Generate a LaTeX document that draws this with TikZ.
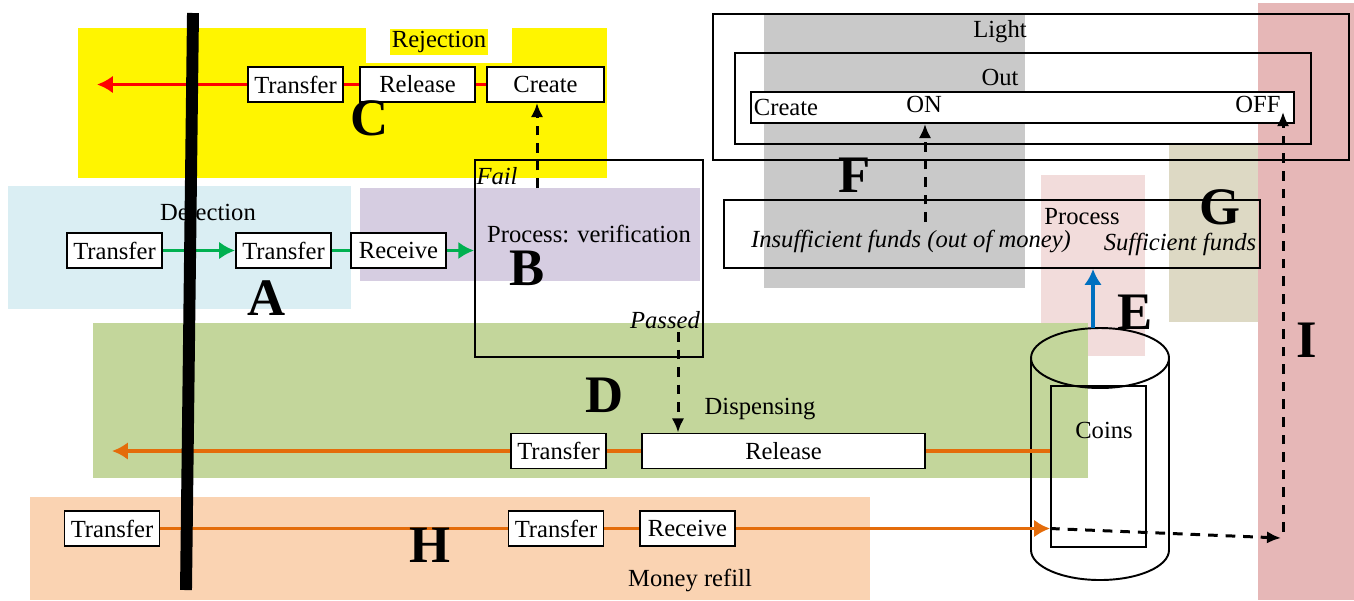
\documentclass[tikz,border=0pt]{standalone}
\usepackage{fontspec}
\setmainfont{Liberation Serif}
\usepackage{tikz}
\usetikzlibrary{arrows.meta}
\definecolor{regyellow}{HTML}{FFF500}
\definecolor{regblue}{HTML}{DAEEF3}
\definecolor{regpurple}{HTML}{D6CDE1}
\definecolor{reggreen}{HTML}{C3D69B}
\definecolor{regorange}{HTML}{FAD3B2}
\definecolor{reggray}{HTML}{C9C9C9}
\definecolor{regpink}{HTML}{F2DCDB}
\definecolor{regtan}{HTML}{DDD9C4}
\definecolor{regred}{HTML}{E6B7B7}
\definecolor{flowgreen}{HTML}{00B050}
\definecolor{floworange}{HTML}{E46C0A}
\definecolor{flowblue}{HTML}{0070C0}
\tikzset{
  step box/.style={draw,fill=white,line width=1.1pt,inner sep=0pt,minimum height=0.7cm,font=\fontsize{14}{16}\selectfont},
  frame box/.style={draw,line width=1.1pt,inner sep=0pt},
  label text/.style={inner sep=1pt,font=\fontsize{14}{16}\selectfont},
  italic text/.style={inner sep=1pt,font=\fontsize{14}{16}\selectfont\itshape},
  letter/.style={inner sep=0pt,font=\fontsize{30}{32}\selectfont\bfseries},
  flow/.style={line width=2pt,>={Latex[length=9pt,width=10pt]}},
  dashflow/.style={line width=1.7pt,dash pattern=on 5.5pt off 4.5pt,>={Latex[length=8pt,width=7pt]}}
}
\begin{document}
\begin{tikzpicture}[x=0.02cm,y=-0.02cm]
  \useasboundingbox (0,0) rectangle (1354,600);
  \fill[regyellow] (78,28) rectangle (607,178);
  \fill[white] (366,28) rectangle (512,63);
  \fill[regblue] (8,186) rectangle (351,309);
  \fill[regpurple] (360,188) rectangle (700,281);
  \fill[regpink] (1041,175) rectangle (1145,356);
  \fill[reggreen] (93,323) rectangle (1088,478);
  \fill[regorange] (30,497) rectangle (870,600);
  \fill[reggray] (764,14) rectangle (1025,288);
  \fill[regred] (1258,3) rectangle (1354,600);
  \fill[regtan] (1169,145) rectangle (1258,322);

  \node [label text,fill=regyellow] (rej) at (439,42) {Rejection};
  \node [step box,minimum width=1.9cm] (c1) at (295.5,84.5) {Transfer};
  \node [step box,minimum width=2.3cm] (c2) at (417.5,84.5) {Release};
  \node [step box,minimum width=2.34cm] (c3) at (545.5,84.5) {Create};
  \coordinate (ctip) at (97,84.5);
  \draw [flow,red] (c3.west) -- (c2.east);
  \draw [flow,red] (c2.west) -- (c1.east);
  \draw [flow,red,->] (c1.west) -- (ctip);

  \node [label text] (det) at (208,212) {Detection};
  \node [step box,minimum width=1.9cm] (a1) at (114.5,250.5) {Transfer};
  \node [step box,minimum width=1.9cm] (a2) at (283.5,250.5) {Transfer};
  \node [step box,minimum width=1.9cm] (a3) at (398.5,250.5) {Receive};
  \node [frame box,minimum width=4.56cm,minimum height=3.94cm] (verif) at (589,258.5) {};
  \node [label text] (verift) at (589,234) {Process: verification};
  \node [italic text] (fail) at (497,176) {Fail};
  \node [italic text] (passed) at (665,320) {Passed};
  \draw [flow,flowgreen,->] (a1.east) -- (a2.west);
  \draw [flow,flowgreen] (a2.east) -- (a3.west);
  \draw [flow,flowgreen,->] (a3.east) -- (a3.east -| verif.west);
  \coordinate (failstart) at (537,188);
  \draw [dashflow,->] (failstart) -- (failstart |- c3.south);

  \node [label text] (disp) at (760,409) {Dispensing};
  \node [step box,minimum width=1.9cm] (d1) at (558.5,451) {Transfer};
  \node [step box,minimum width=5.66cm] (d2) at (783.5,451) {Release};
  \coordinate (passstart) at (678,332);
  \draw [dashflow,->] (passstart) -- (passstart |- d2.north);

  \node [step box,minimum width=1.9cm] (h1) at (112,528.5) {Transfer};
  \node [step box,minimum width=1.9cm] (h2) at (556,528.5) {Transfer};
  \node [step box,minimum width=1.9cm] (h3) at (687.5,528.5) {Receive};
  \node [label text] (refill) at (690,580) {Money refill};

  \draw [line width=1.1pt] (1100,358) ellipse [x radius=69,y radius=30];
  \draw [line width=1.1pt] (1031,358) -- (1031,550) arc [start angle=180,end angle=0,x radius=69,y radius=30] -- (1169,358);
  \node [frame box,minimum width=1.9cm,minimum height=3.22cm] (coins) at (1098.5,466.5) {};
  \node [label text] (coinst) at (1104,430) {Coins};

  \coordinate (dtip) at (112,451);
  \draw [flow,floworange] (d2.east -| coins.west) -- (d2.east);
  \draw [flow,floworange] (d2.west) -- (d1.east);
  \draw [flow,floworange,->] (d1.west) -- (dtip);
  \draw [flow,floworange] (h1.east) -- (h2.west);
  \draw [flow,floworange] (h2.east) -- (h3.west);
  \draw [flow,floworange,->] (h3.east) -- (h3.east -| coins.west);

  \node [frame box,minimum width=12.72cm,minimum height=2.92cm] (light1) at (1031,87) {};
  \node [frame box,minimum width=11.52cm,minimum height=1.82cm] (light2) at (1023,98.5) {};
  \node [frame box,fill=white,minimum width=10.86cm,minimum height=0.62cm] (light3) at (1022.5,107.5) {};
  \node [label text] (lightt) at (1000,32) {Light};
  \node [label text] (outt) at (1000,77) {Out};
  \node [label text] (create) at (786,107) {Create};
  \node [label text] (on) at (924,104) {ON};
  \node [label text] (off) at (1258,104) {OFF};

  \node [frame box,minimum width=10.72cm,minimum height=1.36cm] (proc) at (992,234) {};
  \node [label text] (proct) at (1082,217) {Process};
  \node [italic text] (insuff) at (911,241) {Insufficient funds (out of money)};
  \node [italic text] (suff) at (1180,244) {Sufficient funds};
  \coordinate (onstart) at (925,222);
  \draw [dashflow,->] (onstart) -- (onstart |- light3.south);
  \coordinate (cyltop) at (1093,328);
  \draw [flow,flowblue,->] (cyltop) -- (cyltop |- proc.south);

  \coordinate (iturn) at (1281,538);
  \coordinate (iup) at (1283,532);
  \coordinate (offin) at (1283,112);
  \draw [dashflow,->] (h3.east -| coins.west) -- (iturn);
  \draw [dashflow,->] (iup) -- (offin);

  \coordinate (bartop) at (193,13);
  \coordinate (barbot) at (186,590);
  \draw [line width=6.8pt] (bartop) -- (barbot);

  \node [letter] (lc) at (370,118) {C};
  \node [letter] (la) at (267,298) {A};
  \node [letter] (lb) at (527,268) {B};
  \node [letter] (ld) at (605,395) {D};
  \node [letter] (lh) at (430,545) {H};
  \node [letter] (lf) at (855,175) {F};
  \node [letter] (lg) at (1220,207) {G};
  \node [letter] (le) at (1135,312) {E};
  \node [letter] (li) at (1307,340) {I};
\end{tikzpicture}
\end{document}
